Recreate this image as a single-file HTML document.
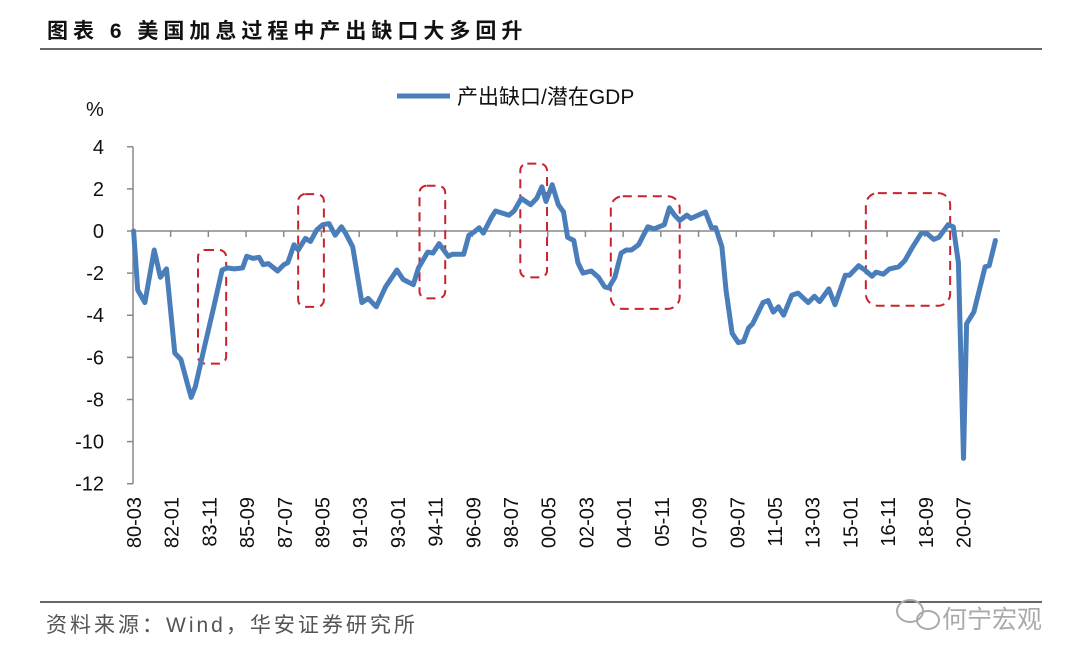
<!DOCTYPE html>
<html><head><meta charset="utf-8">
<style>
html,body{margin:0;padding:0;background:#fff;}
body{width:1080px;height:663px;overflow:hidden;font-family:"Liberation Sans","Noto Sans CJK SC",sans-serif;}
svg text{font-family:"Liberation Sans","Noto Sans CJK SC",sans-serif;}
</style></head>
<body>
<svg id="chart" width="1080" height="663" viewBox="0 0 1080 663" xmlns="http://www.w3.org/2000/svg">
  <text x="47" y="38" font-size="21" font-weight="bold" letter-spacing="5" fill="#111">图表 6 美国加息过程中产出缺口大多回升</text>
  <line x1="40" y1="49" x2="1042" y2="49" stroke="#333" stroke-width="1.5"/>
  <line x1="397" y1="96" x2="450" y2="96" stroke="#4a7ebb" stroke-width="5"/>
  <text x="457" y="104" font-size="21" fill="#111">产出缺口/潜在GDP</text>
  <text x="86" y="116" font-size="20" fill="#111">%</text>
  <g id="axes"></g>
  <g id="boxes"></g>
  <g id="series"></g>
  <line x1="40" y1="602" x2="1042" y2="602" stroke="#333" stroke-width="1.5"/>
  <text x="46" y="632" font-size="21" letter-spacing="3" fill="#555">资料来源：Wind，华安证券研究所</text>
  <g fill="none" stroke="#aaa" stroke-width="2">
    <ellipse cx="910" cy="611" rx="13" ry="11"/>
    <ellipse cx="928" cy="620" rx="11" ry="9"/>
  </g>
  <text x="942" y="628" font-size="25" fill="#aaa">何宁宏观</text>
</svg>
<script>
const years = [1980.2,1980.4,1980.75,1981.2,1981.5,1981.8,1982.2,1982.5,1982.8,1983.0,1983.2,1983.6,1984.1,1984.5,1984.75,1985.1,1985.5,1985.7,1986.0,1986.3,1986.5,1986.75,1987.2,1987.5,1987.7,1988.0,1988.2,1988.55,1988.8,1989.1,1989.4,1989.7,1990.0,1990.3,1990.5,1990.85,1991.3,1991.6,1992.0,1992.45,1993.0,1993.3,1993.8,1994.05,1994.5,1994.75,1995.05,1995.5,1995.7,1996.25,1996.5,1996.75,1997.0,1997.2,1997.6,1997.8,1998.45,1998.7,1999.05,1999.5,1999.8,2000.05,2000.25,2000.55,2000.85,2001.1,2001.3,2001.6,2001.8,2002.05,2002.45,2002.8,2003.1,2003.3,2003.6,2003.9,2004.15,2004.4,2004.75,2005.2,2005.5,2006.0,2006.25,2006.5,2006.75,2007.1,2007.3,2008.0,2008.3,2008.5,2008.8,2009.0,2009.3,2009.6,2009.85,2010.1,2010.3,2010.8,2011.05,2011.3,2011.55,2011.8,2012.2,2012.5,2013.0,2013.3,2013.55,2014.0,2014.3,2014.8,2015.0,2015.45,2015.75,2016.1,2016.3,2016.65,2016.95,2017.4,2017.7,2018.05,2018.5,2018.75,2019.1,2019.35,2019.8,2020.05,2020.3,2020.55,2020.7,2021.05,2021.6,2021.8,2022.1];
const gapValues = [0,-2.8,-3.4,-0.9,-2.2,-1.8,-5.8,-6.1,-7.2,-7.9,-7.4,-5.7,-3.6,-1.85,-1.75,-1.8,-1.75,-1.2,-1.3,-1.25,-1.6,-1.55,-1.9,-1.6,-1.5,-0.65,-0.9,-0.35,-0.5,0.05,0.3,0.35,-0.2,0.2,-0.1,-0.75,-3.4,-3.2,-3.6,-2.65,-1.85,-2.3,-2.55,-1.75,-1.0,-1.05,-0.6,-1.2,-1.1,-1.1,-0.2,-0.05,0.15,-0.1,0.65,0.95,0.75,0.95,1.55,1.25,1.55,2.1,1.4,2.2,1.25,0.9,-0.3,-0.45,-1.5,-2.0,-1.9,-2.2,-2.65,-2.7,-2.2,-1.05,-0.9,-0.9,-0.65,0.2,0.1,0.3,1.1,0.75,0.5,0.75,0.6,0.9,0.15,0.15,-0.75,-2.8,-4.85,-5.3,-5.25,-4.6,-4.4,-3.4,-3.3,-3.85,-3.6,-4.0,-3.05,-2.95,-3.4,-3.1,-3.35,-2.75,-3.5,-2.1,-2.1,-1.65,-1.85,-2.15,-1.95,-2.05,-1.8,-1.7,-1.4,-0.8,-0.1,-0.1,-0.4,-0.3,0.3,0.2,-1.5,-10.8,-4.4,-3.85,-1.7,-1.65,-0.45];
const yTicks = [4,2,0,-2,-4,-6,-8,-10,-12];
const xTickLabels = ["80-03","82-01","83-11","85-09","87-07","89-05","91-03","93-01","94-11","96-09","98-07","00-05","02-03","04-01","05-11","07-09","09-07","11-05","13-03","15-01","16-11","18-09","20-07"];
const hikeBoxes = [[1983.33,1984.7,-6.3,-0.9],[1988.2,1989.45,-3.6,1.75],[1994.1,1995.35,-3.2,2.15],[1999.0,2000.3,-2.2,3.2],[2003.4,2006.75,-3.7,1.65],[2015.8,2019.9,-3.55,1.8]];
const NS="http://www.w3.org/2000/svg";
const X0=133, PXM=1.714, Y0=231, PXU=21.06;
function xs(yr){return X0+(yr-1980.17)*12*PXM;}
function ys(v){return Y0-v*PXU;}
function mk(tag,attrs,parent){const e=document.createElementNS(NS,tag);for(const k in attrs)e.setAttribute(k,attrs[k]);parent.appendChild(e);return e;}
const axes=document.getElementById('axes');
const ya=mk('line',{x1:X0,y1:ys(4),x2:X0,y2:ys(-12),stroke:'#888','stroke-width':1.5},axes);


yTicks.forEach(v=>{
  const t=mk('line',{x1:X0-6,y1:ys(v),x2:X0,y2:ys(v),stroke:'#888','stroke-width':1.5},axes);
  
  
  const l=mk('text',{x:104,y:ys(v)+7,'font-size':20,'text-anchor':'end',fill:'#111'},axes);
  l.textContent=String(v);
  
  
});
const xa=mk('line',{x1:X0,y1:ys(0),x2:1000,y2:ys(0),stroke:'#888','stroke-width':1.5},axes);


xTickLabels.forEach((s,k)=>{
  const yy=parseInt(s.slice(0,2),10), mm=parseInt(s.slice(3),10);
  const yr=(yy<50?2000+yy:1900+yy)+(mm-1)/12;
  const x=xs(yr);
  if(k>0){
    const t=mk('line',{x1:x,y1:ys(0),x2:x,y2:ys(0)+6,stroke:'#888','stroke-width':1.5},axes);
    
    
  }
  const l=mk('text',{x:0,y:0,'font-size':20,'text-anchor':'end',fill:'#111',transform:`translate(${x+8},497) rotate(-90)`},axes);
  l.textContent=s;
  
  
});
const boxes=document.getElementById('boxes');
hikeBoxes.forEach(b=>{
  const x1=xs(b[0]),x2=xs(b[1]),y1=ys(b[3]),y2=ys(b[2]);
  const r=mk('rect',{x:x1,y:y1,width:x2-x1,height:y2-y1,rx:(x2-x1)>50?12:7,fill:'none',stroke:'#c8232c','stroke-width':2,'stroke-dasharray':'9,6'},boxes);
  
  
});
const d=years.map((yr,i)=>(i?'L':'M')+xs(yr).toFixed(1)+','+ys(gapValues[i]).toFixed(1)).join(' ');
const p=mk('path',{d:d,fill:'none',stroke:'#4a7ebb','stroke-width':5,'stroke-linejoin':'round','stroke-linecap':'round'},document.getElementById('series'));


</script>
</body></html>
